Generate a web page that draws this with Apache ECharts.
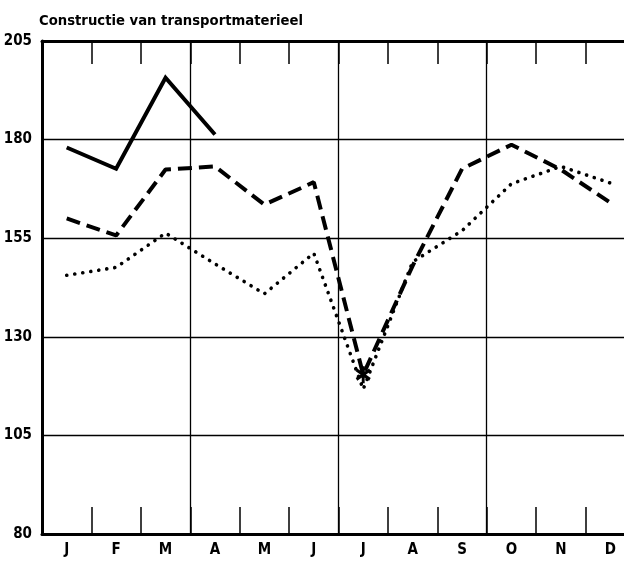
<!DOCTYPE html>
<html>
<head>
<meta charset="utf-8">
<script src="https://cdn.jsdelivr.net/npm/echarts@6/dist/echarts.min.js"></script>
<style>
html,body{margin:0;padding:0;background:#fff;}
#c{width:624px;height:563px;}
</style>
</head>
<body>
<div id="c"></div>
<script>
var titleText = 'Constructie van transportmaterieel';
var months = ['J','F','M','A','M','J','J','A','S','O','N','D'];
var yTicks = [80, 105, 130, 155, 180, 205];
var solidValues = [178, 172.6, 195.7, 181.3, null, null, null, null, null, null, null, null];
var dashedValues = [160, 155.7, 172.4, 173.2, 163.5, 169.2, 120.4, 148, 172.6, 178.7, 172.4, 164];
var dottedValues = [145.6, 147.6, 156.3, 148.5, 140.9, 151.2, 116.7, 149, 156.9, 168.8, 173.2, 169];
var markedIndex = 6;

function bar(x1, y1, x2, y2, w) {
  var dx = x2 - x1, dy = y2 - y1, L = Math.sqrt(dx*dx + dy*dy);
  var nx = -dy / L * w / 2, ny = dx / L * w / 2;
  return 'M' + (x1+nx).toFixed(2) + ',' + (y1+ny).toFixed(2) +
         'L' + (x2+nx).toFixed(2) + ',' + (y2+ny).toFixed(2) +
         'L' + (x2-nx).toFixed(2) + ',' + (y2-ny).toFixed(2) +
         'L' + (x1-nx).toFixed(2) + ',' + (y1-ny).toFixed(2) + 'Z';
}
var star = 'path://' + bar(0,-8,0,8,3) + bar(-7,-4.5,7,4.5,3) + bar(-7,4.5,7,-4.5,3);

var labelFont = {
  fontFamily: '"Liberation Sans Narrow","DejaVu Sans Condensed",sans-serif',
  fontWeight: 'bold', fontSize: 15, color: '#000'
};

var chart = echarts.init(document.getElementById('c'), null, {renderer: 'canvas'});
chart.setOption({
  animation: false,
  backgroundColor: '#fff',
  title: {
    text: titleText, left: 34, top: 9,
    textStyle: {fontFamily: '"DejaVu Sans Condensed",sans-serif', fontWeight: 'bold', fontSize: 14.7, color: '#000'}
  },
  grid: {left: 42, right: -11, top: 41, bottom: 29, containLabel: false, outerBoundsMode: 'none'},
  xAxis: [{
    type: 'category', data: months, position: 'bottom', boundaryGap: true,
    axisLine: {show: true, lineStyle: {color: '#000', width: 3}},
    axisTick: {show: true, inside: true, length: 27, interval: 0, lineStyle: {color: '#000', width: 1.5}},
    axisLabel: Object.assign({margin: 9, interval: 0}, labelFont),
    splitLine: {show: true, interval: function (i) { return i === 3 || i === 6 || i === 9; },
      lineStyle: {color: '#000', width: 1.3}}
  }, {
    type: 'category', data: months, position: 'top', boundaryGap: true,
    axisLine: {show: true, lineStyle: {color: '#000', width: 3}},
    axisTick: {show: true, inside: true, length: 23, interval: 0, lineStyle: {color: '#000', width: 1.5}},
    axisLabel: {show: false},
    splitLine: {show: false}
  }],
  yAxis: {
    type: 'value', min: yTicks[0], max: yTicks[yTicks.length-1], interval: 25,
    axisLine: {show: true, lineStyle: {color: '#000', width: 3}},
    axisTick: {show: false},
    axisLabel: Object.assign({margin: 10}, labelFont),
    splitLine: {show: true, lineStyle: {color: '#000', width: 1.3}}
  },
  series: [{
    type: 'line', data: solidValues, symbol: 'none', connectNulls: false,
    lineStyle: {color: '#000', width: 4, type: 'solid', join: 'miter'}
  }, {
    type: 'line',
    data: dashedValues.map(function (v, i) {
      return i === markedIndex ? {value: v, symbol: star, symbolSize: [15, 17], itemStyle: {color: '#000'}} : v;
    }),
    symbol: 'none',
    lineStyle: {color: '#000', width: 4, type: [14, 7], cap: 'butt'}
  }, {
    type: 'line', data: dottedValues, symbol: 'none',
    lineStyle: {color: '#000', width: 3.6, type: [0.1, 8], cap: 'round'}
  }]
});
</script>
</body>
</html>
